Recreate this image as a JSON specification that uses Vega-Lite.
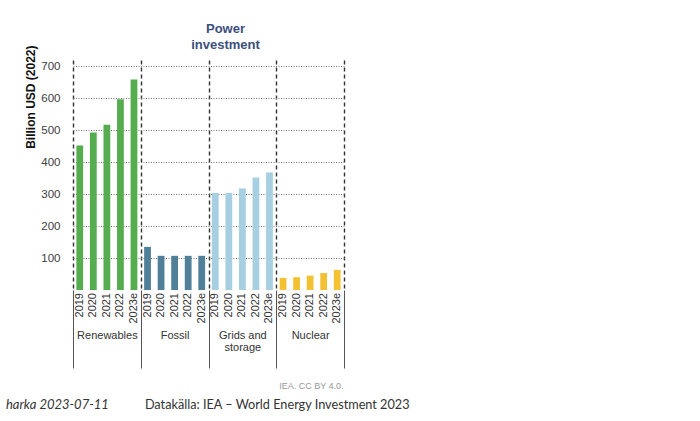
{
  "$schema": "https://vega.github.io/schema/vega-lite/v6.json",
  "autosize": {"type": "none"},
  "padding": {"left": 73, "top": 60, "right": 356, "bottom": 131},
  "width": 271,
  "height": 230,
  "background": "white",
  "config": {
    "view": {"stroke": null},
    "font": "Liberation Sans",
    "axis": {"labelFont": "Liberation Sans", "titleFont": "Liberation Sans"}
  },
  "title": {
    "text": ["Power", "investment"],
    "frame": "group",
    "anchor": "middle",
    "dx": 17,
    "offset": -7,
    "fontSize": 13,
    "fontWeight": "bold",
    "color": "#3c4f7d",
    "lineHeight": 16,
    "font": "Liberation Sans"
  },
  "datasets": {
    "investment": [
      {"group": "Renewables", "year": "2019", "value": 452},
      {"group": "Renewables", "year": "2020", "value": 493},
      {"group": "Renewables", "year": "2021", "value": 517},
      {"group": "Renewables", "year": "2022", "value": 597},
      {"group": "Renewables", "year": "2023e", "value": 659},
      {"group": "Fossil", "year": "2019", "value": 135},
      {"group": "Fossil", "year": "2020", "value": 107},
      {"group": "Fossil", "year": "2021", "value": 107},
      {"group": "Fossil", "year": "2022", "value": 107},
      {"group": "Fossil", "year": "2023e", "value": 107},
      {"group": "Grids and storage", "year": "2019", "value": 304},
      {"group": "Grids and storage", "year": "2020", "value": 304},
      {"group": "Grids and storage", "year": "2021", "value": 318},
      {"group": "Grids and storage", "year": "2022", "value": 352},
      {"group": "Grids and storage", "year": "2023e", "value": 368},
      {"group": "Nuclear", "year": "2019", "value": 38},
      {"group": "Nuclear", "year": "2020", "value": 40},
      {"group": "Nuclear", "year": "2021", "value": 45},
      {"group": "Nuclear", "year": "2022", "value": 53},
      {"group": "Nuclear", "year": "2023e", "value": 63}
    ]
  },
  "data": {"name": "investment"},
  "layer": [
    {
      "mark": {"type": "bar"},
      "encoding": {
        "x": {
          "field": "group",
          "type": "nominal",
          "sort": ["Renewables", "Fossil", "Grids and storage", "Nuclear"],
          "scale": {"paddingInner": 0, "paddingOuter": 0},
          "axis": {
            "title": "IEA. CC BY 4.0.",
            "titleFont": "Liberation Sans",
            "titleFontSize": 9,
            "titleFontWeight": "normal",
            "titleColor": "#9a9a9a",
            "titleAlign": "right",
            "titleBaseline": "middle",
            "titleX": 270,
            "titleY": 95,
            "domain": false,
            "tickBand": "extent",
            "ticks": true,
            "tickSize": 78,
            "tickColor": "#555555",
            "tickWidth": 1,
            "grid": true,
            "gridDash": [4, 3],
            "gridColor": "#333333",
            "gridWidth": 1.4,
            "labelAngle": 0,
            "labelAlign": "center",
            "labelBaseline": "top",
            "labelPadding": -39,
            "labelFont": "Liberation Sans",
            "labelFontSize": 11,
            "labelColor": "#333333",
            "labelLineHeight": 12.5,
            "labelExpr": "datum.value == 'Grids and storage' ? ['Grids and', 'storage'] : datum.value"
          }
        },
        "xOffset": {
          "field": "year",
          "type": "nominal",
          "scale": {"paddingInner": 0.5, "paddingOuter": 0.25}
        },
        "y": {
          "field": "value",
          "type": "quantitative",
          "scale": {"domain": [0, 720], "nice": false},
          "axis": {
            "title": "Billion USD (2022)",
            "titleFont": "Liberation Sans",
            "titleFontSize": 12,
            "titleFontWeight": "bold",
            "titleColor": "#111111",
            "titleAngle": 270,
            "titleAlign": "right",
            "titleBaseline": "middle",
            "titleX": -43,
            "titleY": -15,
            "values": [100, 200, 300, 400, 500, 600, 700],
            "tickCount": 10,
            "labelOverlap": false,
            "domain": false,
            "ticks": false,
            "labelPadding": 13,
            "labelFont": "Liberation Sans",
            "labelFontSize": 11.5,
            "labelColor": "#404040",
            "grid": true,
            "gridDash": [1, 1.5],
            "gridColor": "#7a7a7a",
            "gridWidth": 1
          }
        },
        "color": {
          "field": "group",
          "type": "nominal",
          "scale": {
            "domain": ["Renewables", "Fossil", "Grids and storage", "Nuclear"],
            "range": ["#55ad50", "#4f8097", "#a6cfe1", "#f4c133"]
          },
          "legend": null
        }
      }
    },
    {
      "mark": {
        "type": "text",
        "angle": 270,
        "align": "right",
        "baseline": "middle",
        "dx": -3,
        "fontSize": 11,
        "color": "#333333",
        "font": "Liberation Sans"
      },
      "encoding": {
        "x": {"field": "group", "type": "nominal", "sort": ["Renewables", "Fossil", "Grids and storage", "Nuclear"]},
        "xOffset": {"field": "year", "type": "nominal"},
        "y": {"datum": 0},
        "text": {"field": "year"}
      }
    },
    {
      "data": {"values": [{"note": "harka 2023-07-11"}]},
      "mark": {
        "type": "text",
        "align": "left",
        "baseline": "middle",
        "dx": -101,
        "dy": 115,
        "font": "Lato",
        "fontStyle": "italic",
        "fontSize": 13,
        "color": "#333333"
      },
      "encoding": {
        "x": {"datum": "Renewables"},
        "y": {"datum": 0},
        "text": {"field": "note"}
      }
    },
    {
      "data": {"values": [{"note": "Datakälla: IEA – World Energy Investment 2023"}]},
      "mark": {
        "type": "text",
        "align": "left",
        "baseline": "middle",
        "dx": 38,
        "dy": 115,
        "font": "Lato",
        "fontSize": 12.7,
        "color": "#333333"
      },
      "encoding": {
        "x": {"datum": "Renewables"},
        "y": {"datum": 0},
        "text": {"field": "note"}
      }
    }
  ]
}
